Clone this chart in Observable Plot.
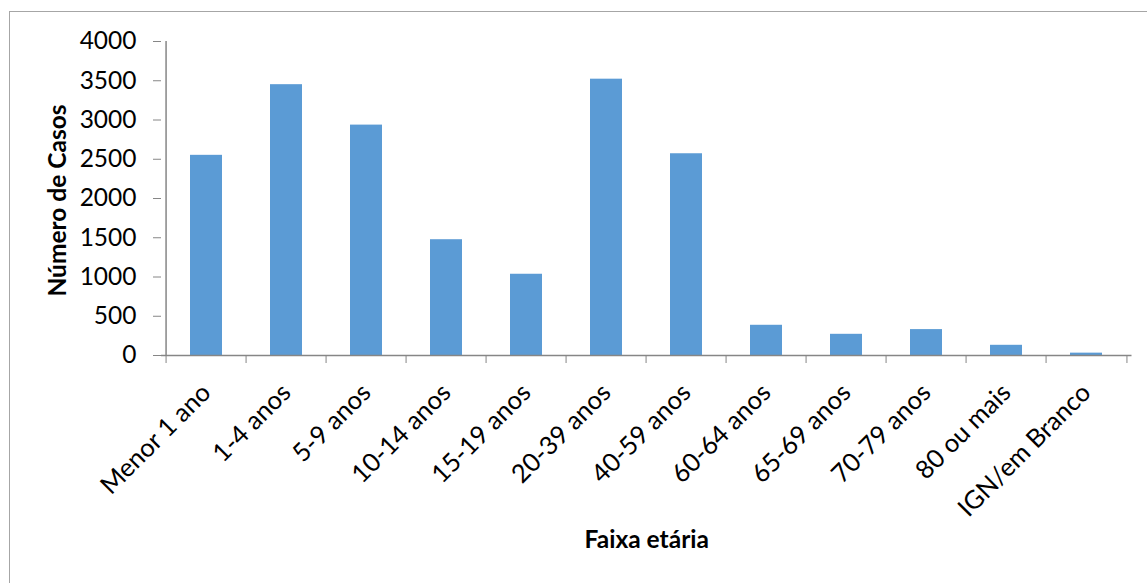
<!DOCTYPE html>
<html>
<head>
<meta charset="utf-8">
<script src="https://cdn.jsdelivr.net/npm/d3@7"></script>
<script src="https://cdn.jsdelivr.net/npm/@observablehq/plot@0.6"></script>
<style>
  html, body { margin: 0; padding: 0; background: #fff; overflow: hidden; }
  #wrap { position: relative; width: 1147px; height: 583px; }
  #frame { position: absolute; left: 9px; top: 11px; width: 1300px; height: 800px; border: 1px solid #a6a6a6; box-sizing: border-box; }
  #chart { position: absolute; left: 0; top: 0; }
</style>
</head>
<body>
<div id="wrap"><div id="frame"></div><div id="chart"></div></div>
<script>
const categories = ["Menor 1 ano", "1-4 anos", "5-9 anos", "10-14 anos", "15-19 anos", "20-39 anos", "40-59 anos", "60-64 anos", "65-69 anos", "70-79 anos", "80 ou mais", "IGN/em Branco"];
const casos = [2550, 3450, 2935, 1475, 1035, 3520, 2570, 385, 270, 330, 130, 30];
const yTicks = [0, 500, 1000, 1500, 2000, 2500, 3000, 3500, 4000];
const yTitle = "Número de Casos";
const xTitle = "Faixa etária";

const data = categories.map((c, i) => ({faixa: c, casos: casos[i]}));

const W = 1147, H = 583, mL = 161, mR = 15.5, mT = 41, mB = 228;
const step = (W - mL - mR) / categories.length;
const gray = "#868686";

const chart = Plot.plot({
  width: W, height: H,
  marginLeft: mL, marginRight: mR, marginTop: mT, marginBottom: mB,
  style: {fontFamily: "Lato, 'Open Sans', sans-serif", color: "black", background: "transparent"},
  x: {type: "band", domain: categories, paddingInner: 0.6, paddingOuter: 0.3, axis: null},
  y: {domain: [0, 4000], axis: null},
  marks: [
    Plot.barY(data, {x: "faixa", y: "casos", fill: "#5b9bd5"}),
    Plot.ruleY([0], {stroke: gray, strokeWidth: 1.5}),
    Plot.ruleX([categories[0]], {dx: -step / 2, y1: 0, y2: 4000, stroke: gray, strokeWidth: 1.5}),
    Plot.axisY({ticks: yTicks, tickSize: 8, tickPadding: 17, tickFormat: d => String(d), fontSize: 24.5, label: null, stroke: gray, fill: "black"}),
    Plot.axisX({ticks: categories, tickSize: 8, tickFormat: () => "", dx: -step / 2, label: null, stroke: gray}),
    Plot.axisX({ticks: [categories[categories.length - 1]], tickSize: 8, tickFormat: () => "", dx: step / 2, label: null, stroke: gray}),
    Plot.axisX({ticks: categories, tickSize: 0, tickRotate: -45, tickPadding: 24, dy: 9, fontSize: 25.5, label: null, fill: "black"}),
    Plot.text([yTitle], {frameAnchor: "left", textAnchor: "middle", lineAnchor: "middle", rotate: -90, dx: -103, dy: 2, fontSize: 24.5, fontWeight: "bold", fill: "black"}),
    Plot.text([xTitle], {frameAnchor: "bottom", textAnchor: "middle", lineAnchor: "middle", dy: 185, fontSize: 24.5, fontWeight: "bold", fill: "black"})
  ]
});
document.getElementById("chart").appendChild(chart);
</script>
</body>
</html>
